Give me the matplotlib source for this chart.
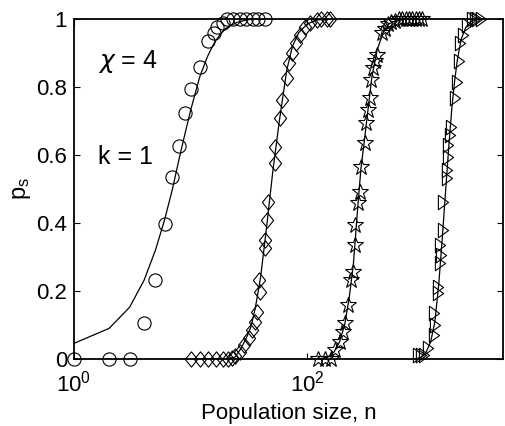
import matplotlib
matplotlib.use('Agg')
import matplotlib.pyplot as plt

plt.rcParams['font.family'] = ['Liberation Sans', 'DejaVu Sans']
plt.rcParams['mathtext.fontset'] = 'dejavusans'

# circles (smallest populations)
n_circ = [1, 2, 3, 4, 5, 6, 7, 8, 9, 10, 12, 14, 16, 17, 19, 20.5, 23, 26.5, 30, 34.5, 38, 43.5]
p_circ = [0, 0, 0, 0.105, 0.231, 0.397, 0.536, 0.627, 0.724, 0.793, 0.860, 0.936,
          0.958, 0.977, 0.987, 1, 1, 1, 1, 1, 1, 1]
n_circ_fit = [1, 2, 3, 4, 5, 6, 7, 8, 9, 10, 12, 14, 16, 18, 20, 25, 30, 35, 40, 45]
p_circ_fit = [0.046, 0.09, 0.152, 0.232, 0.32, 0.41, 0.50, 0.59, 0.665, 0.73, 0.83, 0.89,
              0.93, 0.955, 0.972, 0.99, 0.997, 1, 1, 1]

# diamonds
n_diam = [10, 12, 14, 16.5, 19, 21, 22.5, 24, 26.5, 29, 31.5, 33.5, 36, 37, 38.5, 39.5,
          43.5, 44, 45, 46.5, 53, 53, 58.5, 60.5, 67, 70, 75, 80, 87, 96, 106, 121, 133, 147, 157]
p_diam = [0, 0, 0, 0, 0, 0, 0.003, 0.008, 0.021, 0.041, 0.061, 0.085, 0.11, 0.139, 0.232, 0.198,
          0.326, 0.35, 0.409, 0.463, 0.576, 0.624, 0.708, 0.762, 0.826, 0.87, 0.90, 0.928,
          0.953, 0.977, 0.987, 0.997, 1, 1, 1]
n_diam_fit = [10, 20, 24, 27, 30, 33, 36, 40, 45, 51, 58, 67, 75, 85, 100, 120, 150, 160]
p_diam_fit = [0, 0, 0.005, 0.03, 0.06, 0.095, 0.15, 0.242, 0.389, 0.556, 0.703, 0.85,
              0.92, 0.96, 0.985, 0.997, 1, 1]

# stars
n_star = [125, 142, 162, 173, 192, 205, 211, 225, 240, 248, 256, 256, 273, 282, 292, 313,
          323, 334, 345, 356, 370, 383, 395, 437, 470, 500, 530, 570, 610, 650, 700, 750,
          800, 860, 920, 970]
p_star = [0, 0, 0, 0.026, 0.051, 0.08, 0.105, 0.159, 0.232, 0.257, 0.335, 0.394, 0.458,
          0.492, 0.566, 0.634, 0.693, 0.732, 0.767, 0.821, 0.855, 0.875, 0.894, 0.958,
          0.97, 0.985, 0.99, 0.995, 1, 1, 1, 1, 1, 1, 1, 1]
n_star_fit = [100, 125, 150, 170, 190, 210, 230, 250, 270, 290, 310, 330, 360, 400, 450,
              500, 600, 700, 1000]
p_star_fit = [0, 0, 0.005, 0.02, 0.05, 0.1, 0.18, 0.28, 0.43, 0.56, 0.64, 0.72, 0.83,
              0.91, 0.96, 0.985, 0.998, 1, 1]

# right triangles (largest populations)
n_tri = [900, 950, 1000, 1100, 1220, 1250, 1220, 1340, 1320, 1380, 1410, 1380, 1475, 1475,
         1575, 1575, 1630, 1630, 1690, 1730, 1860, 1940, 2000, 2050, 2180, 2340, 2600,
         2750, 2900, 3100]
p_tri = [0.012, 0.012, 0.012, 0.031, 0.071, 0.1, 0.134, 0.193, 0.213, 0.281, 0.306, 0.335,
         0.379, 0.463, 0.531, 0.556, 0.595, 0.629, 0.659, 0.683, 0.767, 0.816, 0.875,
         0.928, 0.953, 0.982, 1, 1, 1, 1]
n_tri_fit = [850, 950, 1050, 1150, 1250, 1350, 1450, 1550, 1650, 1750, 1850, 1950, 2100,
             2300, 2600, 3000]
p_tri_fit = [0, 0.005, 0.02, 0.05, 0.11, 0.22, 0.36, 0.5, 0.63, 0.74, 0.82, 0.88, 0.94,
             0.975, 0.995, 1]

# marker shapes closer to the original (wider diamond, narrower triangle)
diamond = [(-0.4, 0), (0, 0.5), (0.4, 0), (0, -0.5), (-0.4, 0)]
tri_right = [(-0.35, 0.5), (0.35, 0), (-0.35, -0.5), (-0.35, 0.5)]

fig = plt.figure(figsize=(5.06, 4.26), dpi=100)
ax = fig.add_axes([0.1462, 0.1573, 0.8478, 0.7981])

series = [
    (n_circ, p_circ, n_circ_fit, p_circ_fit, 'o', 9.5),
    (n_diam, p_diam, n_diam_fit, p_diam_fit, diamond, 11),
    (n_star, p_star, n_star_fit, p_star_fit, '*', 12),
    (n_tri, p_tri, n_tri_fit, p_tri_fit, tri_right, 10.5),
]
for n, p, nf, pf, m, ms in series:
    ax.plot(nf, pf, '-', color='black', lw=0.9)
    ax.plot(n, p, linestyle='none', marker=m, ms=ms, mfc='none', mec='black', mew=0.8,
            clip_on=False)

ax.set_xscale('log')
ax.set_xlim(1, 4800)
ax.set_ylim(0, 1)
ax.set_xticks([1, 100])
ax.set_xticklabels([r'$\mathregular{10^{0}}$', r'$\mathregular{10^{2}}$'])
ax.xaxis.set_minor_locator(matplotlib.ticker.NullLocator())
ax.set_yticks([0, 0.2, 0.4, 0.6, 0.8, 1])
ax.set_yticklabels(['0', '0.2', '0.4', '0.6', '0.8', '1'])
ax.tick_params(direction='in', length=4, width=0.8, labelsize=16, right=True, top=True)
ax.tick_params(axis='y', pad=5)
ax.tick_params(axis='x', pad=8)
for s in ax.spines.values():
    s.set_linewidth(1.3)

ax.set_xlabel('Population size, n', fontsize=16, labelpad=5)
ax.set_ylabel(r'$\mathregular{p_s}$', fontsize=17, labelpad=2)

ax.text(1.6, 0.874, r'$\chi$ = 4', fontsize=18, va='center', ha='left')
ax.text(1.6, 0.594, 'k = 1', fontsize=18, va='center', ha='left')

fig.savefig('out.png', dpi=100)
